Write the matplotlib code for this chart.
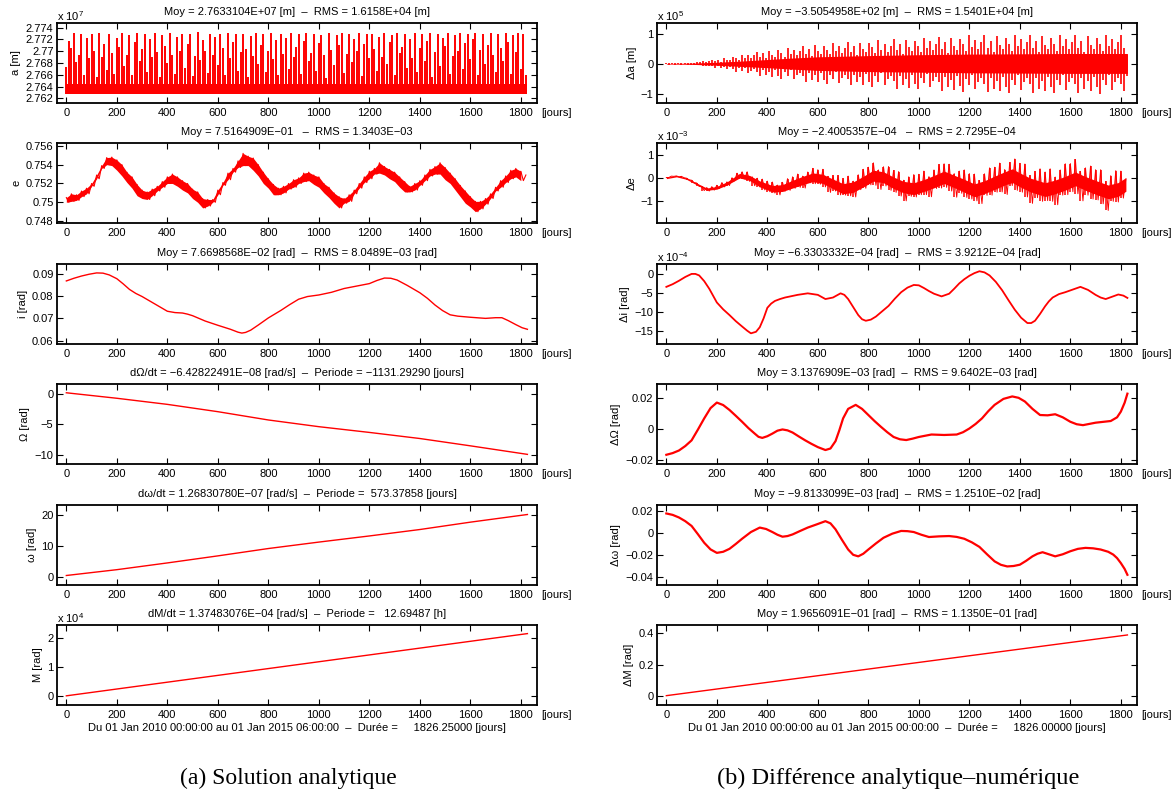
import numpy as np
import matplotlib
matplotlib.use('Agg')
import matplotlib.pyplot as plt
from matplotlib.ticker import FuncFormatter

plt.rcParams['font.family'] = ['Liberation Sans', 'DejaVu Sans']
plt.rcParams['mathtext.fontset'] = 'custom'
plt.rcParams['mathtext.rm'] = 'Liberation Sans'
plt.rcParams['axes.unicode_minus'] = True

RED = '#ff0000'
FS = 8

# ---------------- data (left column: analytic solution) ----------------
# a [x 1e7 m]: dense band + spikes on a 10-day grid
a_band_t = [0, 1826]
a_band_lo = [2.7628, 2.7628]
a_band_hi = [2.7644, 2.7644]
a_spike_t = np.arange(0, 1821, 10)
a_spike_h = [
    2.7674, 2.7717, 2.7705, 2.7731, 2.7682, 2.7693, 2.7730, 2.7660, 2.7722, 2.7688,
    2.7729, 2.7700, 2.7656, 2.7731, 2.7690, 2.7712, 2.7668, 2.7730, 2.7697, 2.7661,
    2.7722, 2.7708, 2.7731, 2.7675, 2.7693, 2.7728, 2.7659, 2.7716, 2.7731, 2.7684,
    2.7703, 2.7730, 2.7665, 2.7721, 2.7690, 2.7731, 2.7698, 2.7656, 2.7727, 2.7709,
    2.7680, 2.7731, 2.7694, 2.7662, 2.7725, 2.7701, 2.7730, 2.7671, 2.7713, 2.7729,
    2.7658, 2.7692, 2.7732, 2.7685, 2.7719, 2.7700, 2.7663, 2.7730, 2.7694, 2.7724,
    2.7677, 2.7729, 2.7706, 2.7660, 2.7731, 2.7689, 2.7715, 2.7729, 2.7667, 2.7698,
    2.7730, 2.7704, 2.7657, 2.7726, 2.7692, 2.7731, 2.7679, 2.7711, 2.7730, 2.7664,
    2.7701, 2.7731, 2.7686, 2.7719, 2.7659, 2.7730, 2.7696, 2.7723, 2.7670, 2.7731,
    2.7690, 2.7707, 2.7729, 2.7661, 2.7718, 2.7731, 2.7683, 2.7697, 2.7730, 2.7666,
    2.7714, 2.7728, 2.7693, 2.7655, 2.7731, 2.7702, 2.7676, 2.7727, 2.7710, 2.7731,
    2.7663, 2.7695, 2.7730, 2.7681, 2.7721, 2.7700, 2.7731, 2.7658, 2.7712, 2.7729,
    2.7688, 2.7730, 2.7703, 2.7667, 2.7725, 2.7691, 2.7731, 2.7679, 2.7716, 2.7728,
    2.7660, 2.7731, 2.7697, 2.7708, 2.7730, 2.7672, 2.7720, 2.7689, 2.7731, 2.7664,
    2.7705, 2.7729, 2.7684, 2.7717, 2.7731, 2.7657, 2.7698, 2.7730, 2.7675, 2.7723,
    2.7709, 2.7731, 2.7662, 2.7692, 2.7728, 2.7700, 2.7731, 2.7669, 2.7714, 2.7730,
    2.7686, 2.7720, 2.7731, 2.7659, 2.7702, 2.7729, 2.7678, 2.7710, 2.7731, 2.7694,
    2.7665, 2.7730, 2.7706, 2.7683, 2.7731, 2.7715, 2.7661, 2.7727, 2.7699, 2.7731,
    2.7670, 2.7730, 2.7660]

# e: oscillating signal sampled every 10 days (alternating high / low samples)
e_t = np.arange(0, 1821, 10)
e_val = [
    0.7505, 0.7500, 0.7509, 0.7501, 0.7508, 0.7502, 0.7512, 0.7506, 0.7515, 0.7509,
    0.7520, 0.7517, 0.7529, 0.7525, 0.7539, 0.7536, 0.75475, 0.7540, 0.7548, 0.7539,
    0.7545, 0.7534, 0.7540, 0.7528, 0.7532, 0.7521, 0.7527, 0.7515, 0.7519, 0.7507,
    0.7513, 0.7504, 0.7511, 0.7503, 0.7514, 0.7507, 0.7517, 0.7512, 0.7522, 0.7516,
    0.7527, 0.7520, 0.7530, 0.7520, 0.7527, 0.7517, 0.7523, 0.7513, 0.7520, 0.7510,
    0.7514, 0.7504, 0.7511, 0.7500, 0.7504, 0.7494, 0.7503, 0.7496, 0.7503, 0.7500,
    0.7513, 0.7508, 0.7521, 0.7518, 0.7531, 0.7524, 0.7536, 0.7532, 0.7544, 0.7537,
    0.7552, 0.7539, 0.7549, 0.7539, 0.7547, 0.7534, 0.7540, 0.7528, 0.7532, 0.7520,
    0.7525, 0.7515, 0.7519, 0.7508, 0.7515, 0.7508, 0.7517, 0.7510, 0.7520, 0.7514,
    0.7524, 0.7516, 0.7526, 0.7520, 0.7531, 0.7522, 0.7532, 0.7523, 0.7529, 0.7519,
    0.7527, 0.7516, 0.7520, 0.7510, 0.7516, 0.7505, 0.7510, 0.7499, 0.7506, 0.7494,
    0.7504, 0.7499, 0.7508, 0.7501, 0.7513, 0.7509, 0.7520, 0.7515, 0.7527, 0.7521,
    0.7533, 0.7525, 0.7536, 0.7530, 0.7542, 0.7531, 0.7538, 0.7529, 0.7535, 0.7525,
    0.7532, 0.7522, 0.7527, 0.7516, 0.7522, 0.7511, 0.7517, 0.7511, 0.7520, 0.7513,
    0.7523, 0.7518, 0.7529, 0.7523, 0.7535, 0.7528, 0.7538, 0.7530, 0.7542, 0.7530,
    0.7537, 0.7524, 0.7531, 0.7520, 0.7525, 0.7513, 0.7518, 0.7506, 0.7512, 0.7499,
    0.7506, 0.7495, 0.7501, 0.7490, 0.7501, 0.7493, 0.7504, 0.7498, 0.7509, 0.7504,
    0.7516, 0.7512, 0.7523, 0.7516, 0.7528, 0.7521, 0.7534, 0.7525, 0.7536, 0.7527,
    0.7533, 0.7523, 0.7529]

# i [rad]
i_t = [0, 30, 60, 90, 120, 145, 170, 200, 225, 250, 275, 300, 350, 400, 430, 460, 480,
       500, 550, 600, 650, 680, 695, 710, 730, 760, 800, 850, 885, 920, 955, 1000,
       1050, 1100, 1150, 1200, 1230, 1260, 1285, 1310, 1350, 1400, 1430, 1460, 1490,
       1520, 1550, 1600, 1660, 1700, 1725, 1750, 1780, 1805, 1826]
i_val = [0.0868, 0.0880, 0.0890, 0.0898, 0.0904, 0.0903, 0.0895, 0.0878, 0.0855,
         0.0830, 0.0812, 0.0798, 0.0765, 0.0732, 0.0726, 0.0724, 0.0719, 0.0712,
         0.0688, 0.0669, 0.0651, 0.0638, 0.0634, 0.0637, 0.0647, 0.0670, 0.0702,
         0.0736, 0.0762, 0.0786, 0.0798, 0.0805, 0.0817, 0.0834, 0.0845, 0.0856,
         0.0870, 0.0881, 0.0880, 0.0872, 0.0848, 0.0815, 0.0790, 0.0760, 0.0735,
         0.0716, 0.0710, 0.0705, 0.0700, 0.0703, 0.0703, 0.0690, 0.0672, 0.0658,
         0.0651]

# Omega [rad]
Om_t = [0, 200, 400, 600, 800, 1000, 1200, 1400, 1600, 1826]
Om_val = [0.2, -0.7, -1.7, -2.9, -4.26, -5.36, -6.3, -7.3, -8.5, -9.9]

# omega [rad]
om_t = [0, 200, 400, 600, 800, 1000, 1200, 1400, 1600, 1826]
om_val = [0.4, 2.3, 4.5, 6.8, 9.2, 11.3, 13.3, 15.4, 17.8, 20.3]

# M [x 1e4 rad]
M_t = [0, 1826]
M_val = [0.0, 2.17]

# ---------------- data (right column: analytic - numeric) ----------------
# delta a [x 1e5 m]: core band + spikes on a 12-day grid
da_core_t = [0, 100, 200, 300, 400, 500, 600, 800, 1000, 1200, 1400, 1600, 1826]
da_core_hi = [0.01, 0.02, 0.05, 0.09, 0.14, 0.19, 0.23, 0.27, 0.30, 0.32, 0.33, 0.34, 0.34]
da_core_lo = [-0.01, -0.02, -0.05, -0.09, -0.13, -0.18, -0.22, -0.26, -0.28, -0.30, -0.31, -0.32, -0.32]
da_t = np.arange(0, 1825, 12)
da_hi = [
    0.03, 0.02, 0.03, 0.01, 0.03, 0.02, 0.02, 0.04, 0.04, 0.03,
    0.07, 0.05, 0.08, 0.06, 0.09, 0.13, 0.08, 0.13, 0.07, 0.18,
    0.13, 0.11, 0.22, 0.18, 0.13, 0.30, 0.19, 0.28, 0.18, 0.28,
    0.38, 0.22, 0.34, 0.18, 0.43, 0.30, 0.24, 0.44, 0.35, 0.23,
    0.53, 0.32, 0.47, 0.28, 0.43, 0.59, 0.33, 0.49, 0.25, 0.61,
    0.42, 0.33, 0.59, 0.47, 0.31, 0.68, 0.41, 0.60, 0.35, 0.53,
    0.71, 0.40, 0.58, 0.29, 0.70, 0.49, 0.38, 0.68, 0.54, 0.35,
    0.78, 0.47, 0.67, 0.40, 0.60, 0.81, 0.45, 0.66, 0.33, 0.79,
    0.55, 0.42, 0.77, 0.60, 0.39, 0.86, 0.52, 0.74, 0.44, 0.66,
    0.89, 0.49, 0.72, 0.36, 0.86, 0.59, 0.46, 0.83, 0.65, 0.42,
    0.94, 0.56, 0.80, 0.48, 0.71, 0.95, 0.52, 0.76, 0.38, 0.91,
    0.62, 0.48, 0.86, 0.67, 0.43, 0.96, 0.58, 0.82, 0.48, 0.72,
    0.96, 0.53, 0.77, 0.38, 0.91, 0.62, 0.48, 0.86, 0.67, 0.43,
    0.96, 0.58, 0.82, 0.48, 0.72, 0.96, 0.53, 0.77, 0.38, 0.91,
    0.62, 0.48, 0.86, 0.67, 0.43, 0.96, 0.58, 0.82, 0.48, 0.72,
    0.96, 0.53, 0.30]
da_lo = [
    -0.02, -0.03, -0.02, -0.03, -0.02, -0.03, -0.02, -0.03, -0.05, -0.03,
    -0.05, -0.03, -0.08, -0.07, -0.06, -0.09, -0.14, -0.08, -0.14, -0.11,
    -0.19, -0.10, -0.19, -0.26, -0.15, -0.23, -0.13, -0.30, -0.23, -0.19,
    -0.27, -0.40, -0.21, -0.37, -0.27, -0.44, -0.22, -0.39, -0.50, -0.28,
    -0.40, -0.22, -0.50, -0.36, -0.29, -0.41, -0.60, -0.31, -0.53, -0.38,
    -0.62, -0.30, -0.53, -0.67, -0.37, -0.51, -0.28, -0.63, -0.46, -0.36,
    -0.50, -0.72, -0.37, -0.62, -0.44, -0.71, -0.34, -0.61, -0.77, -0.42,
    -0.59, -0.32, -0.71, -0.52, -0.40, -0.57, -0.82, -0.41, -0.71, -0.50,
    -0.80, -0.38, -0.68, -0.85, -0.47, -0.65, -0.35, -0.78, -0.57, -0.44,
    -0.62, -0.89, -0.45, -0.77, -0.55, -0.86, -0.41, -0.74, -0.93, -0.51,
    -0.71, -0.38, -0.85, -0.62, -0.48, -0.67, -0.95, -0.48, -0.82, -0.58,
    -0.91, -0.43, -0.77, -0.96, -0.53, -0.72, -0.38, -0.86, -0.62, -0.48,
    -0.67, -0.96, -0.48, -0.82, -0.58, -0.91, -0.43, -0.77, -0.96, -0.53,
    -0.72, -0.38, -0.86, -0.62, -0.48, -0.67, -0.96, -0.48, -0.82, -0.58,
    -0.91, -0.43, -0.77, -0.99, -0.53, -0.72, -0.38, -0.86, -0.62, -0.48,
    -0.67, -0.90, -0.40]

# delta e [x 1e-3]: dense core band + samples every 10 days (alternating high / low)
de_core_t = [0, 40, 80, 120, 160, 200, 240, 290, 330, 370, 420, 460, 500, 540, 580,
             620, 660, 700, 740, 780, 820, 860, 900, 940, 980, 1020, 1060, 1100, 1140,
             1180, 1220, 1260, 1300, 1340, 1370, 1400, 1440, 1500, 1540, 1580, 1620,
             1660, 1700, 1750, 1790, 1820]
de_core_lo = [-0.03, 0.05, -0.06, -0.30, -0.54, -0.49, -0.31, 0.00, -0.11, -0.39,
              -0.61, -0.59, -0.44, -0.29, -0.16, -0.24, -0.47, -0.69, -0.63, -0.39,
              -0.14, -0.21, -0.46, -0.65, -0.73, -0.59, -0.43, -0.24, -0.42, -0.62,
              -0.82, -0.68, -0.50, -0.31, -0.20, -0.38, -0.60, -0.81, -0.69, -0.53,
              -0.34, -0.54, -0.71, -0.91, -0.80, -0.58]
de_core_hi = [0.03, 0.11, 0.00, -0.22, -0.44, -0.37, -0.17, 0.20, 0.11, -0.13,
              -0.33, -0.29, -0.10, 0.07, 0.22, 0.16, -0.05, -0.25, -0.17, 0.07,
              0.34, 0.27, 0.04, -0.15, -0.21, -0.07, 0.11, 0.30, 0.12, -0.06,
              -0.26, -0.12, 0.08, 0.27, 0.40, 0.22, 0.00, -0.21, -0.09, 0.07,
              0.26, 0.06, -0.11, -0.31, -0.20, 0.02]
de_t = np.arange(0, 1821, 10)
de_val = [
    0.02, 0.02, 0.08, 0.07, 0.09, 0.05, 0.07, 0.01, -0.01, -0.08,
    -0.10, -0.21, -0.22, -0.37, -0.37, -0.55, -0.42, -0.57, -0.38, -0.53,
    -0.32, -0.46, -0.20, -0.39, -0.17, -0.33, 0.01, -0.13, 0.21, -0.02,
    0.27, -0.04, 0.27, -0.15, 0.05, -0.34, -0.01, -0.39, -0.05, -0.52,
    -0.14, -0.60, -0.18, -0.66, -0.31, -0.74, -0.19, -0.58, -0.03, -0.54,
    0.05, -0.45, 0.17, -0.41, 0.08, -0.44, 0.26, -0.21, 0.42, -0.25,
    0.36, -0.27, 0.38, -0.39, 0.07, -0.63, 0.11, -0.57, 0.11, -0.74,
    -0.02, -0.75, 0.08, -0.78, -0.14, -0.83, 0.14, -0.51, 0.38, -0.45,
    0.47, -0.30, 0.66, -0.32, 0.35, -0.50, 0.49, -0.35, 0.50, -0.54,
    0.33, -0.63, 0.28, -0.79, -0.10, -1.00, 0.05, -0.80, 0.15, -0.83,
    0.16, -0.73, 0.30, -0.73, 0.06, -0.82, 0.35, -0.46, 0.59, -0.44,
    0.62, -0.41, 0.60, -0.57, 0.19, -0.84, 0.30, -0.67, 0.35, -0.85,
    0.19, -0.92, 0.17, -1.00, -0.11, -1.12, 0.18, -0.76, 0.44, -0.75,
    0.47, -0.62, 0.65, -0.61, 0.37, -0.72, 0.68, -0.33, 0.83, -0.54,
    0.64, -0.62, 0.61, -0.83, 0.11, -1.11, 0.29, -0.86, 0.40, -1.02,
    0.26, -0.99, 0.40, -1.02, 0.04, -1.17, 0.35, -0.75, 0.62, -0.73,
    0.63, -0.60, 0.81, -0.69, 0.29, -1.00, 0.44, -0.75, 0.52, -0.92,
    0.36, -0.96, 0.36, -1.13, -0.15, -1.42, 0.10, -1.02, 0.32, -1.05,
    0.30, -0.88, -0.05]

# delta i [x 1e-4 rad]
di_t = [0, 25, 50, 75, 100, 115, 130, 150, 170, 200, 225, 250, 275, 300, 320, 335,
        355, 370, 385, 400, 415, 430, 450, 470, 520, 560, 600, 630, 660, 690, 705,
        720, 740, 760, 775, 790, 810, 830, 855, 880, 905, 930, 955, 980, 1000, 1020,
        1040, 1060, 1090, 1120, 1140, 1160, 1180, 1200, 1220, 1240, 1260, 1280, 1305,
        1330, 1355, 1380, 1405, 1430, 1445, 1460, 1480, 1500, 1515, 1530, 1555, 1580,
        1610, 1640, 1670, 1700, 1720, 1740, 1765, 1790, 1810, 1826]
di_val = [-3.5, -2.8, -1.9, -0.9, -0.1, -0.1, -0.5, -2.0, -4.0, -7.6, -9.4, -10.9,
          -12.5, -13.9, -15.0, -15.7, -15.3, -14.1, -11.8, -9.0, -7.9, -7.2, -6.7,
          -6.3, -5.6, -5.2, -5.6, -6.7, -6.3, -5.2, -5.6, -6.7, -8.8, -10.9, -12.0,
          -12.4, -12.1, -11.3, -9.9, -8.5, -6.6, -4.9, -3.7, -3.0, -3.1, -3.8, -4.6,
          -5.3, -6.0, -5.3, -4.0, -2.6, -1.5, -0.6, 0.1, 0.6, 0.3, -0.5, -2.2, -4.4,
          -7.0, -9.5, -11.6, -13.0, -13.0, -12.4, -10.6, -8.6, -7.3, -6.3, -5.4, -4.9,
          -4.2, -3.5, -4.3, -5.6, -6.3, -6.7, -6.1, -5.5, -5.8, -6.4]

# delta Omega [rad]
dO_t = [0, 25, 50, 75, 100, 125, 150, 175, 200, 225, 250, 275, 300, 325, 350, 365,
        380, 400, 420, 440, 460, 480, 500, 525, 550, 575, 600, 630, 650, 670, 685,
        700, 720, 750, 775, 800, 825, 850, 875, 900, 925, 950, 975, 1000, 1050, 1100,
        1150, 1175, 1200, 1225, 1250, 1275, 1300, 1335, 1370, 1395, 1420, 1450, 1480,
        1510, 1540, 1570, 1600, 1625, 1650, 1700, 1760, 1785, 1800, 1815, 1826]
dO_val = [-0.0169, -0.0158, -0.0141, -0.0112, -0.0075, -0.0005, 0.0068, 0.0135, 0.0171,
          0.0155, 0.0123, 0.0085, 0.0046, 0.0005, -0.0031, -0.0052, -0.0059, -0.0048,
          -0.0031, -0.0012, -0.0004, -0.0010, -0.0024, -0.0050, -0.0075, -0.0098,
          -0.0119, -0.0138, -0.0128, -0.0080, -0.0010, 0.0068, 0.0130, 0.0156, 0.0130,
          0.0090, 0.0050, 0.0013, -0.0022, -0.0053, -0.0068, -0.0073, -0.0064, -0.0053,
          -0.0037, -0.0040, -0.0037, -0.0022, 0.0002, 0.0032, 0.0068, 0.0115, 0.0156,
          0.0195, 0.0211, 0.0202, 0.0178, 0.0130, 0.0090, 0.0088, 0.0095, 0.0075,
          0.0046, 0.0030, 0.0024, 0.0040, 0.0051, 0.0075, 0.0112, 0.0170, 0.0229]

# delta omega [rad]
dw_t = [0, 25, 50, 75, 100, 125, 150, 175, 200, 225, 250, 275, 300, 335, 370, 395,
        420, 440, 460, 480, 500, 530, 560, 595, 630, 650, 670, 695, 720, 740, 760,
        780, 800, 830, 860, 895, 930, 955, 980, 1010, 1040, 1080, 1120, 1150, 1180,
        1210, 1240, 1270, 1300, 1325, 1350, 1375, 1400, 1425, 1450, 1470, 1490, 1515,
        1540, 1570, 1600, 1630, 1660, 1690, 1720, 1750, 1770, 1785, 1800, 1815, 1826]
dw_val = [0.0181, 0.0168, 0.0144, 0.0110, 0.0066, -0.0010, -0.0089, -0.0150, -0.0182,
          -0.0172, -0.0145, -0.0100, -0.0052, 0.0010, 0.0051, 0.0038, 0.0010, -0.0015,
          -0.0033, -0.0027, -0.0012, 0.0020, 0.0051, 0.0080, 0.0110, 0.0090, 0.0035,
          -0.0060, -0.0151, -0.0200, -0.0214, -0.0190, -0.0151, -0.0095, -0.0043,
          -0.0005, 0.0020, 0.0018, 0.0010, -0.0015, -0.0036, -0.0030, -0.0027, -0.0035,
          -0.0052, -0.0085, -0.0127, -0.0195, -0.0260, -0.0292, -0.0307, -0.0303,
          -0.0291, -0.0255, -0.0214, -0.0190, -0.0176, -0.0195, -0.0214, -0.0195,
          -0.0167, -0.0145, -0.0136, -0.0140, -0.0151, -0.0172, -0.0198, -0.0230,
          -0.0276, -0.0330, -0.0384]

# delta M [rad]
dM_t = [0, 1826]
dM_val = [0.0, 0.39]

# ---------------- texts ----------------
titles_left = [
    'Moy = 2.7633104E+07 [m]  \u2013  RMS = 1.6158E+04 [m]',
    'Moy = 7.5164909E\u221201   \u2013  RMS = 1.3403E\u221203',
    'Moy = 7.6698568E\u221202 [rad]  \u2013  RMS = 8.0489E\u221203 [rad]',
    'd\u03a9/dt = \u22126.42822491E\u221208 [rad/s]  \u2013  Periode = \u22121131.29290 [jours]',
    'd\u03c9/dt = 1.26830780E\u221207 [rad/s]  \u2013  Periode =  573.37858 [jours]',
    'dM/dt = 1.37483076E\u221204 [rad/s]  \u2013  Periode =   12.69487 [h]',
]
titles_right = [
    'Moy = \u22123.5054958E+02 [m]  \u2013  RMS = 1.5401E+04 [m]',
    'Moy = \u22122.4005357E\u221204   \u2013  RMS = 2.7295E\u221204',
    'Moy = \u22126.3303332E\u221204 [rad]  \u2013  RMS = 3.9212E\u221204 [rad]',
    'Moy = 3.1376909E\u221203 [rad]  \u2013  RMS = 9.6402E\u221203 [rad]',
    'Moy = \u22129.8133099E\u221203 [rad]  \u2013  RMS = 1.2510E\u221202 [rad]',
    'Moy = 1.9656091E\u221201 [rad]  \u2013  RMS = 1.1350E\u221201 [rad]',
]
ylabels_left = ['a [m]', 'e', 'i [rad]', '\u03a9 [rad]', '\u03c9 [rad]', 'M [rad]']
ylabels_right = ['\u0394a [m]', '\u0394e', '\u0394i [rad]', '\u0394\u03a9 [rad]',
                 '\u0394\u03c9 [rad]', '\u0394M [rad]']
bottom_left = 'Du 01 Jan 2010 00:00:00 au 01 Jan 2015 06:00:00  \u2013  Dur\u00e9e =     1826.25000 [jours]'
bottom_right = 'Du 01 Jan 2010 00:00:00 au 01 Jan 2015 00:00:00  \u2013  Dur\u00e9e =     1826.00000 [jours]'
caption_left = '(a) Solution analytique'
caption_right = '(b) Diff\u00e9rence analytique\u2013num\u00e9rique'
x_ticks = [0, 200, 400, 600, 800, 1000, 1200, 1400, 1600, 1800]

# ---------------- figure ----------------
W, H = 1175, 800
fig = plt.figure(figsize=(W / 100, H / 100), dpi=100)
fig.patch.set_facecolor('white')

row_tops = [23, 143, 264, 384, 505, 625]
AX_H = 80
LEFT_X, RIGHT_X, AX_W = 57, 657, 480


def make_ax(x0, top):
    return fig.add_axes([x0 / W, 1 - (top + AX_H) / H, AX_W / W, AX_H / H])


fmt = FuncFormatter(lambda v, p: ('%g' % v).replace('-', '\u2212'))


def style(ax, ylim, yticks, title, ylabel, expo=None, xlabel=None):
    ax.set_xlim(-37, 1864)
    ax.set_ylim(*ylim)
    ax.set_xticks(x_ticks)
    ax.set_yticks(yticks)
    ax.yaxis.set_major_formatter(fmt)
    ax.tick_params(direction='in', top=True, right=True, length=4, width=0.8,
                   labelsize=FS, pad=2.5)
    ax.tick_params(axis='x', pad=3.5)
    for s in ax.spines.values():
        s.set_linewidth(1.3)
    ax.set_title(title, fontsize=FS, pad=5.5)
    ax.set_ylabel(ylabel, fontsize=FS, labelpad=3)
    ax.annotate('[jours]', xy=(1, 0), xycoords='axes fraction', xytext=(3, -3.5),
                textcoords='offset points', ha='left', va='top', fontsize=FS,
                annotation_clip=False)
    if expo is not None:
        ax.text(0, 1.0, r'x 10$^{%s}$' % expo, transform=ax.transAxes,
                ha='left', va='bottom', fontsize=FS)
    if xlabel is not None:
        ax.set_xlabel(xlabel, fontsize=FS, labelpad=2)


def ribbon(ax, t, v, lw=0.8):
    # solid ribbon between consecutive high / low samples plus the sampled line
    n = (len(v) - 1) // 2 * 2
    ax.fill_between(t[0:n:2], v[0:n:2], v[1:n:2], color=RED, lw=0)
    ax.plot(t, v, color=RED, lw=lw)


def hatched(ax, t, v, lw=0.7):
    # vertical strokes between consecutive high / low samples plus the sampled line
    n = (len(v) - 1) // 2 * 2
    ax.vlines(t[0:n:2], v[1:n:2], v[0:n:2], color=RED, lw=1.1)
    ax.plot(t, v, color=RED, lw=lw)


axL = [make_ax(LEFT_X, t) for t in row_tops]
axR = [make_ax(RIGHT_X, t) for t in row_tops]

# left column
ax = axL[0]
ax.fill_between(a_band_t, a_band_lo, a_band_hi, color=RED, lw=0)
ax.vlines(a_spike_t, a_band_lo[0], a_spike_h, color=RED, lw=1.4)
style(ax, (2.7612, 2.7748), [2.762, 2.764, 2.766, 2.768, 2.770, 2.772, 2.774],
      titles_left[0], ylabels_left[0], expo='7')

ax = axL[1]
ribbon(ax, e_t, e_val)
style(ax, (0.7478, 0.7563), [0.748, 0.750, 0.752, 0.754, 0.756],
      titles_left[1], ylabels_left[1])

ax = axL[2]
ax.plot(i_t, i_val, color=RED, lw=1.0)
style(ax, (0.0585, 0.0944), [0.06, 0.07, 0.08, 0.09], titles_left[2], ylabels_left[2])

ax = axL[3]
ax.plot(Om_t, Om_val, color=RED, lw=1.0)
style(ax, (-11.48, 1.64), [-10, -5, 0], titles_left[3], ylabels_left[3])

ax = axL[4]
ax.plot(om_t, om_val, color=RED, lw=1.0)
style(ax, (-2.7, 23.4), [0, 10, 20], titles_left[4], ylabels_left[4])

ax = axL[5]
ax.plot(M_t, M_val, color=RED, lw=1.0)
style(ax, (-0.32, 2.47), [0, 1, 2], titles_left[5], ylabels_left[5], expo='4',
      xlabel=bottom_left)

# right column
ax = axR[0]
ax.fill_between(da_core_t, da_core_lo, da_core_hi, color=RED, lw=0)
ax.vlines(da_t, da_lo, da_hi, color=RED, lw=1.2)
style(ax, (-1.30, 1.35), [-1, 0, 1], titles_right[0], ylabels_right[0], expo='5')

ax = axR[1]
ax.fill_between(de_core_t, de_core_lo, de_core_hi, color=RED, lw=0)
hatched(ax, de_t, de_val)
style(ax, (-1.97, 1.53), [-1, 0, 1], titles_right[1], ylabels_right[1], expo='-3')

ax = axR[2]
ax.plot(di_t, di_val, color=RED, lw=1.3)
style(ax, (-18.5, 2.5), [-15, -10, -5, 0], titles_right[2], ylabels_right[2], expo='-4')

ax = axR[3]
ax.plot(dO_t, dO_val, color=RED, lw=1.6)
style(ax, (-0.0229, 0.0292), [-0.02, 0, 0.02], titles_right[3], ylabels_right[3])

ax = axR[4]
ax.plot(dw_t, dw_val, color=RED, lw=1.6)
style(ax, (-0.0478, 0.0259), [-0.04, -0.02, 0, 0.02], titles_right[4], ylabels_right[4])

ax = axR[5]
ax.plot(dM_t, dM_val, color=RED, lw=1.0)
style(ax, (-0.06, 0.454), [0, 0.2, 0.4], titles_right[5], ylabels_right[5],
      xlabel=bottom_right)

fig.text(288 / W, 1 - 778 / H, caption_left, ha='center', va='center',
         family='Liberation Serif', fontsize=17)
fig.text(898 / W, 1 - 778 / H, caption_right, ha='center', va='center',
         family='Liberation Serif', fontsize=17.5)

fig.savefig('out.png', dpi=100, facecolor='white')
